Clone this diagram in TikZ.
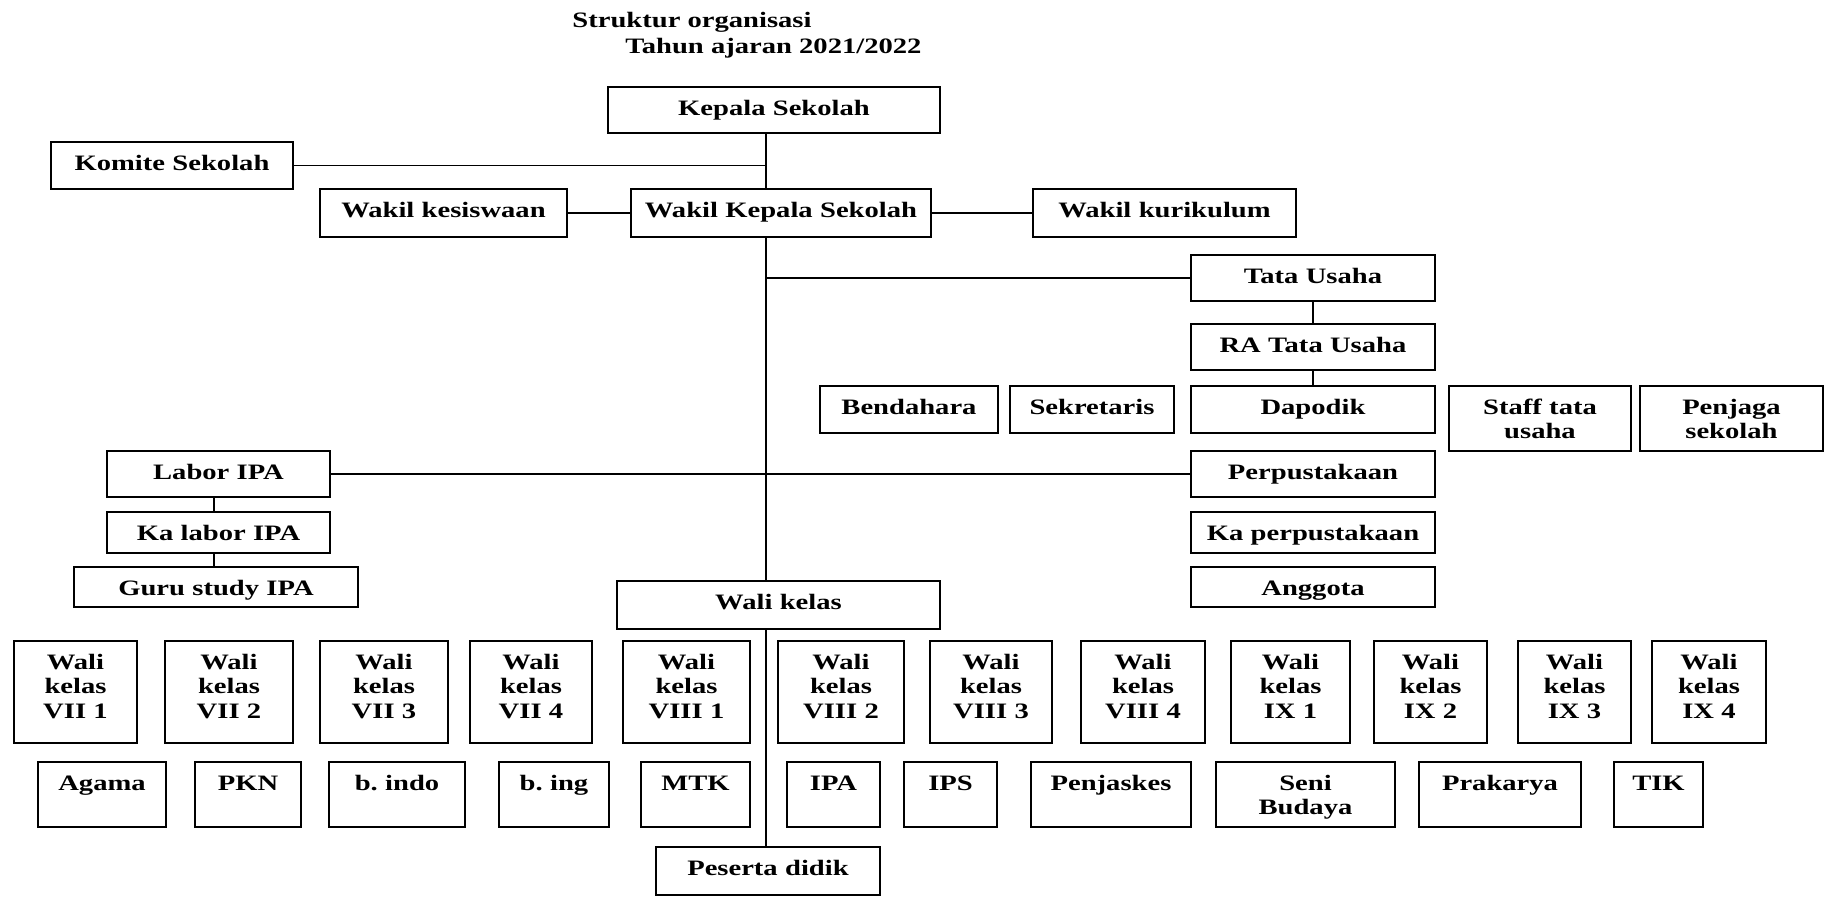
\documentclass[tikz,border=0pt]{standalone}
\usepackage{fontspec}
\setmainfont{Liberation Serif}[FakeStretch=1.3]
\frenchspacing
\begin{document}
\begin{tikzpicture}[x=0.5pt,y=-0.5pt,
  box/.style={draw,line width=0.8pt,inner sep=0pt,align=center,
    text height=14pt,font=\bfseries\fontsize{11}{12.3}\selectfont},
  sz/.style 2 args={minimum width=#1pt,text width=#1pt,text depth=#2pt},
  link/.style={line width=0.7pt},
  judul/.style={inner sep=0pt,anchor=base west,
    font=\bfseries\fontsize{11}{12.3}\selectfont}]
\useasboundingbox (0,0) rectangle (1828,896);

% title
\node (judul1) [judul] at (572,27) {Struktur organisasi};
\node (judul2) [judul] at (625,53) {Tahun ajaran 2021/2022};

\coordinate (trunk) at (766,0);
\coordinate (labline) at (214,0);

% pimpinan
\node (kepala) [box,sz={166}{9}] at (774,110) {Kepala Sekolah};
\node (komite) [box,sz={121}{9.5}] at (172,165.5) {Komite Sekolah};
\node (kesiswaan) [box,sz={123.5}{10}] at (443.5,213) {Wakil kesiswaan};
\node (wakil) [box,sz={150}{10}] at (781,213) {Wakil Kepala Sekolah};
\node (kurikulum) [box,sz={131.5}{10}] at (1164.5,213) {Wakil kurikulum};

% tata usaha
\node (tata) [box,sz={122}{9}] at (1313,278) {Tata Usaha};
\node (ratu) [box,sz={122}{9}] at (1313,347) {RA Tata Usaha};
\node (bendahara) [box,sz={89}{9.5}] at (909,409.5) {Bendahara};
\node (sekretaris) [box,sz={82}{9.5}] at (1092,409.5) {Sekretaris};
\node (dapodik) [box,sz={122}{9.5}] at (1313,409.5) {Dapodik};
\node (staff) [box,sz={91}{18.5}] at (1540,418.5) {Staff tata\\usaha};
\node (penjaga) [box,sz={91.5}{18.5}] at (1731.5,418.5) {Penjaga\\sekolah};

% perpustakaan and labor
\node (perpus) [box,sz={122}{9}] at (1313,474) {Perpustakaan};
\node (kaperpus) [box,sz={122}{6.5}] at (1313,532.5) {Ka perpustakaan};
\node (anggota) [box,sz={122}{6}] at (1313,587) {Anggota};
\node (labor) [box,sz={111.5}{9}] at (218.5,474) {Labor IPA};
\node (kalabor) [box,sz={111.5}{6.5}] at (218.5,532.5) {Ka labor IPA};
\node (guru) [box,sz={142}{6}] at (216,587) {Guru study IPA};

% wali kelas
\node (walikelas) [box,sz={161.5}{10}] at (778.5,605) {Wali kelas};
\foreach \cx/\w/\kls [count=\i] in {75.5/61.5/VII 1, 229/64/VII 2, 384/64/VII 3,
    531/61/VII 4, 686.5/63.5/VIII 1, 841/63/VIII 2, 991/61/VIII 3,
    1143/62/VIII 4, 1290.5/59.5/IX 1, 1430.5/56.5/IX 2, 1574.5/56.5/IX 3,
    1709/57/IX 4}
  \node (wk\i) [box,sz={\w}{37}] at (\cx,692) {Wali\\kelas\\\kls};

% mata pelajaran
\foreach \cx/\w/\mapel [count=\i] in {102/64/Agama, 248/53/PKN, 397/68/b. indo,
    554/55/b. ing, 695.5/54.5/MTK, 833.5/46.5/IPA, 950.5/46.5/IPS,
    1111/80/Penjaskes, 1305.5/89.5/Seni\\Budaya, 1500/81/Prakarya,
    1658.5/44.5/TIK}
  \node (mp\i) [box,sz={\w}{18.5}] at (\cx,794.5) {\mapel};

\node (peserta) [box,sz={112}{10}] at (768,871) {Peserta didik};

% connectors
\draw[link] (kepala.south -| trunk) -- (wakil.north -| trunk);
\draw[link] (komite.east) -- (komite.east -| trunk);
\draw[link] (kesiswaan) -- (wakil);
\draw[link] (wakil) -- (kurikulum);
\draw[link] (wakil.south -| trunk) -- (walikelas.north -| trunk);
\draw[link] (tata.west -| trunk) -- (tata.west);
\draw[link] (tata) -- (ratu);
\draw[link] (ratu) -- (dapodik);
\draw[link] (labor.east) -- (perpus.west);
\draw[link] (labor.south -| labline) -- (kalabor.north -| labline);
\draw[link] (kalabor.south -| labline) -- (guru.north -| labline);
\draw[link] (walikelas.south -| trunk) -- (peserta.north -| trunk);

\end{tikzpicture}
\end{document}
